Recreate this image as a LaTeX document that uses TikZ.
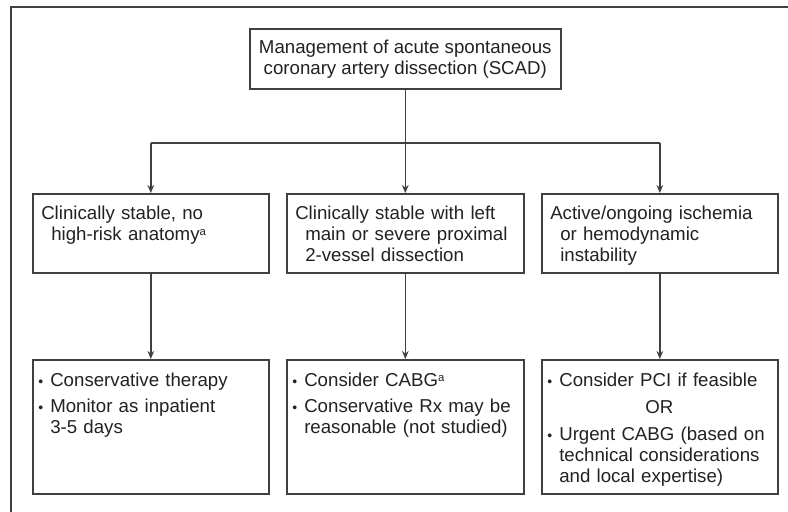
\documentclass[tikz,border=0pt]{standalone}
\usepackage{fontspec}
\setmainfont{Liberation Sans}
\usetikzlibrary{arrows.meta}
\definecolor{ln}{HTML}{404040}
\definecolor{tx}{HTML}{222222}
\newcommand{\bul}{\makebox[9pt][l]{\fontsize{10.5pt}{10pt}\selectfont •}}
\newcommand{\fitm}{\noindent\bul}
\newcommand{\itm}{\par\noindent\bul}
\newcommand{\cont}{\\\hspace*{9pt}}
\newcommand{\hng}{\\\hspace*{7.5pt}}
\newcommand{\supa}{\raisebox{4pt}{\fontsize{8.5pt}{8pt}\selectfont a}}
\begin{document}
\begin{tikzpicture}[x=0.75pt,y=-0.75pt,
 box/.style={draw=ln, line width=1.2pt, rectangle, inner sep=0pt, anchor=north west},
 txt/.style={anchor=north west, inner sep=0pt, text=tx, font=\fontsize{14pt}{15.6pt}\selectfont, align=left, text width=168pt},
 arr/.style={draw=ln, line width=1.2pt, -{Stealth[length=6pt,width=5pt]}},
 con/.style={draw=ln, line width=1.2pt}]
\useasboundingbox (0,0) rectangle (788,511);
\fill[white] (0,0) rectangle (788,511);
\draw[ln, line width=1.6pt] (11,530) -- (11,7) -- (800,7);

% top box
\node[box, minimum width=233.25pt, minimum height=45pt, align=center, text=tx,
      font=\fontsize{14pt}{15.6pt}\selectfont] (top) at (249,28)
  {Management of acute spontaneous\\coronary artery dissection (SCAD)};

% middle row
\node[box, minimum width=177pt, minimum height=59.25pt] (m1) at (32,193) {};
\node[box, minimum width=177.75pt, minimum height=59.25pt] (m2) at (286,193) {};
\node[box, minimum width=177pt, minimum height=59.25pt] (m3) at (541,193) {};
\node[txt] (t1) at (41,206) {Clinically stable, no\hng high-risk anatomy\supa};
\node[txt] (t2) at (295,206) {Clinically stable with left\hng main or severe proximal\hng 2-vessel dissection};
\node[txt] (t3) at (550,206) {Active/ongoing ischemia\hng or hemodynamic\hng instability};

% bottom row
\node[box, minimum width=177pt, minimum height=100.5pt] (b1) at (32,359) {};
\node[box, minimum width=177.75pt, minimum height=100.5pt] (b2) at (286,359) {};
\node[box, minimum width=177pt, minimum height=100.5pt] (b3) at (541,359) {};
\node[txt] (u1) at (38,373) {\setlength{\parskip}{4pt}\fitm Conservative therapy\itm Monitor as inpatient\cont 3-5 days};
\node[txt] (u2) at (292,373) {\setlength{\parskip}{4pt}\fitm Consider CABG\supa\itm Conservative Rx may be\cont reasonable (not studied)};
\node[txt] (u3) at (547,373) {\setlength{\parskip}{4.5pt}\fitm Consider PCI if feasible\par{\centering OR\par}\itm Urgent CABG (based on\cont technical considerations\cont and local expertise)};

% connectors
\coordinate (j) at (404,143);
\draw[con] (top.south) -- (top.south |- j);
\draw[con] (j -| m1.north) -- (j -| m3.north);
\draw[arr] (j -| m1.north) -- (m1.north);
\draw[arr] (j -| m2.north) -- (m2.north);
\draw[arr] (j -| m3.north) -- (m3.north);
\draw[arr] (m1.south) -- (b1.north);
\draw[arr] (m2.south) -- (b2.north);
\draw[arr] (m3.south) -- (b3.north);
\end{tikzpicture}
\end{document}
